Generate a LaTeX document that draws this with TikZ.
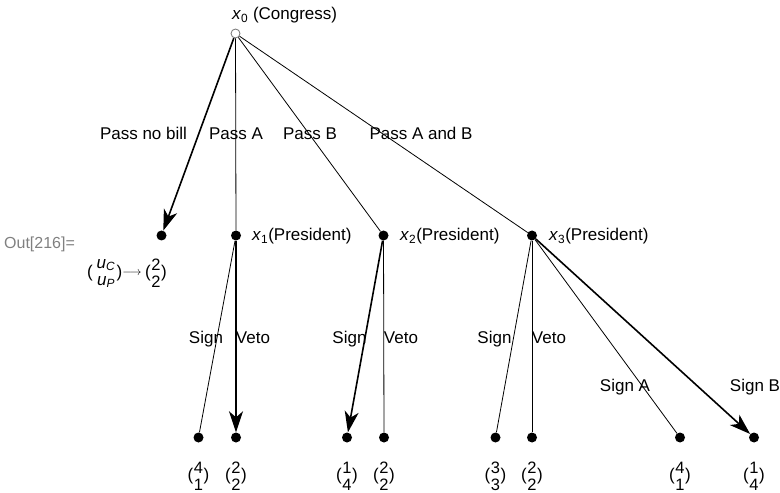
\documentclass[tikz,border=0pt]{standalone}
\usepackage{fontspec}
\setmainfont{Liberation Sans}
\usetikzlibrary{arrows.meta}
\newcommand\payoff[4]{%
  \node[dig] (#1t) at (#2,468) {#3};
  \node[dig] (#1b) at (#2,484.5) {#4};
  \node (#1l) at ({#2-8},476) {(};
  \node (#1r) at ({#2+8},476) {)};
}
\begin{document}
\begin{tikzpicture}[x=1bp,y=-1bp,
  every node/.style={inner sep=0pt, font=\fontsize{17bp}{20bp}\selectfont},
  vtx/.style={circle, fill=black, minimum size=10bp},
  rootv/.style={circle, draw=black!55, line width=0.8bp, fill=white, minimum size=9bp},
  plain/.style={line width=0.8bp},
  chosen/.style={line width=1.6bp, -{Stealth[length=21bp,width=14bp,inset=6bp]}},
  lbl/.style={anchor=base},
  dig/.style={font=\fontsize{16.5bp}{18bp}\selectfont},
]
\useasboundingbox (0,0) rectangle (780,493);

% vertices
\node[rootv] (x0) at (235.5,33.5) {};
\node[vtx] (n1) at (161.5,235.5) {};
\node[vtx] (x1) at (236,235.5) {};
\node[vtx] (x2) at (383.5,235.5) {};
\node[vtx] (x3) at (532,235.5) {};
\node[vtx] (l1) at (198.5,437.5) {};
\node[vtx] (l2) at (236,437.5) {};
\node[vtx] (l3) at (347,437.5) {};
\node[vtx] (l4) at (384,437.5) {};
\node[vtx] (l5) at (495.5,437.5) {};
\node[vtx] (l6) at (532,437.5) {};
\node[vtx] (l7) at (680,437.5) {};
\node[vtx] (l8) at (754,437.5) {};

% edges
\draw[chosen] (x0) -- (n1);
\draw[plain] (x0) -- (x1);
\draw[plain] (x0) -- (x2);
\draw[plain] (x0) -- (x3);
\draw[plain] (x1) -- (l1);
\draw[chosen] (x1) -- (l2);
\draw[chosen] (x2) -- (l3);
\draw[plain] (x2) -- (l4);
\draw[plain] (x3) -- (l5);
\draw[plain] (x3) -- (l6);
\draw[plain] (x3) -- (l7);
\draw[chosen] (x3) -- (l8);

% player labels
\node[anchor=base west] (t0) at (232,19.5) {\textit{x}\textsubscript{0} (Congress)};
\node[anchor=base west] (t1) at (252,241) {\textit{x}\textsubscript{1}(President)};
\node[anchor=base west] (t2) at (400,241) {\textit{x}\textsubscript{2}(President)};
\node[anchor=base west] (t3) at (549,241) {\textit{x}\textsubscript{3}(President)};

% action labels
\node[lbl] (a1) at (143.5,140) {Pass no bill};
\node[lbl] (a2) at (236,140) {Pass A};
\node[lbl] (a3) at (310,140) {Pass B};
\node[lbl] (a4) at (421,140) {Pass A and B};
\node[lbl] (b1) at (206,343) {Sign};
\node[lbl] (b2) at (253,343) {Veto};
\node[lbl] (b3) at (349.5,343) {Sign};
\node[lbl] (b4) at (401,343) {Veto};
\node[lbl] (b5) at (494.5,343) {Sign};
\node[lbl] (b6) at (549,343) {Veto};
\node[lbl] (b7) at (625,391) {Sign A};
\node[lbl] (b8) at (755,391) {Sign B};

% Out label
\node[anchor=base west, text=black!50, font=\fontsize{16bp}{18bp}\selectfont] (out) at (4,249) {Out[216]=};

% first payoff with legend
\node (ul) at (90,273) {(};
\node (uc) at (106,265) {\textit{u}\textsubscript{\textit{C}}};
\node (up) at (106,282) {\textit{u}\textsubscript{\textit{P}}};
\node (ur) at (119.5,273) {)};
\node[font=\fontsize{11.5bp}{11.5bp}\selectfont] (arr) at (132,273) {$\longrightarrow$};
\node[dig] (p0t) at (156,265) {2};
\node[dig] (p0b) at (156,281.7) {2};
\node (p0l) at (148,273) {(};
\node (p0r) at (164,273) {)};

% leaf payoffs
\payoff{p1}{198.5}{4}{1}
\payoff{p2}{236}{2}{2}
\payoff{p3}{347}{1}{4}
\payoff{p4}{384}{2}{2}
\payoff{p5}{495.5}{3}{3}
\payoff{p6}{532}{2}{2}
\payoff{p7}{680}{4}{1}
\payoff{p8}{754}{1}{4}
\end{tikzpicture}
\end{document}
